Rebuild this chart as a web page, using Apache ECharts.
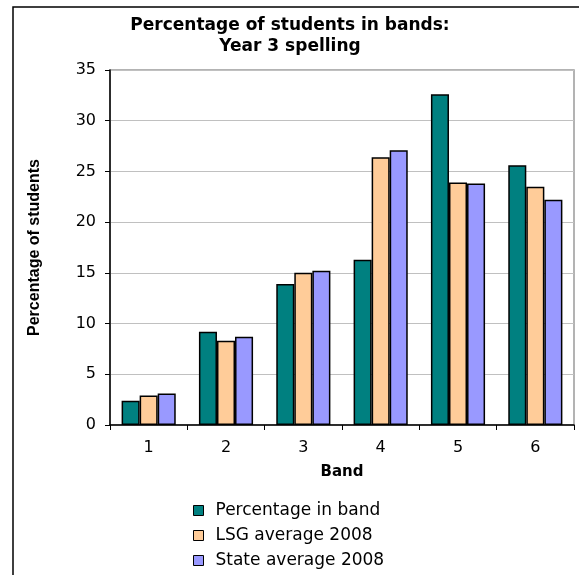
<!DOCTYPE html>
<html>
<head>
<meta charset="utf-8">
<script src="https://cdn.jsdelivr.net/npm/echarts@6/dist/echarts.min.js"></script>
<style>
html,body{margin:0;padding:0;background:#fff;}
#chart{width:579px;height:575px;}
</style>
</head>
<body>
<div id="chart"></div>
<script>
var bands = ['1', '2', '3', '4', '5', '6'];
var percentageInBand = [2.4, 9.2, 13.9, 16.3, 32.6, 25.6];
var lsgAverage2008 = [2.9, 8.3, 15.0, 26.4, 23.9, 23.5];
var stateAverage2008 = [3.1, 8.7, 15.2, 27.1, 23.8, 22.2];
var seriesNames = ['Percentage in band', 'LSG average 2008', 'State average 2008'];
var yTicks = [0, 35, 5];

var chart = echarts.init(document.getElementById('chart'), null, {renderer: 'canvas'});
var font = 'DejaVu Sans, sans-serif';
var barStyle = function (c) {
  return {color: c, borderColor: '#000', borderWidth: 1.5};
};
chart.setOption({
  animation: false,
  backgroundColor: '#fff',
  title: {
    text: 'Percentage of students in bands:\nYear 3 spelling',
    left: 285,
    top: 10,
    textAlign: 'center',
    textStyle: {fontFamily: 'DejaVu Sans, sans-serif', fontWeight: 'bold', fontSize: 17, color: '#000', lineHeight: 21}
  },
  graphic: [{
    type: 'rect',
    shape: {x: 13, y: 7, width: 700, height: 700},
    style: {fill: 'none', stroke: '#000', lineWidth: 1.5},
    silent: true
  }],
  legend: {
    orient: 'vertical',
    left: 193,
    top: 502,
    height: 120,
    padding: 0,
    itemWidth: 10,
    itemHeight: 10,
    itemGap: 8,
    icon: 'rect',
    data: seriesNames,
    itemStyle: {borderColor: '#000', borderWidth: 1},
    textStyle: {fontFamily: font, fontSize: 17, color: '#000', padding: [0, 0, 0, 7]}
  },
  grid: {
    left: 110, right: 5, top: 70, bottom: 150,
    show: true, borderColor: '#9a9a9a', borderWidth: 1.5, containLabel: false
  },
  xAxis: {
    type: 'category',
    data: bands,
    name: 'Band',
    nameLocation: 'middle',
    nameGap: 40,
    nameTextStyle: {fontFamily: font, fontWeight: 'bold', fontSize: 15, color: '#000'},
    axisLine: {lineStyle: {color: '#000', width: 1.5}},
    axisTick: {show: true, length: 5, lineStyle: {color: '#000'}},
    axisLabel: {fontFamily: font, fontSize: 16, color: '#000', margin: 15}
  },
  yAxis: {
    type: 'value',
    min: yTicks[0], max: yTicks[1], interval: yTicks[2],
    name: 'Percentage of students',
    nameLocation: 'middle',
    nameGap: 67,
    nameTextStyle: {fontFamily: 'Liberation Sans, Arial, sans-serif', fontWeight: 'bold', fontSize: 16, color: '#000'},
    axisLine: {show: true, lineStyle: {color: '#000', width: 1.5}},
    axisTick: {show: true, length: 5, lineStyle: {color: '#000'}},
    axisLabel: {fontFamily: font, fontSize: 16, color: '#000', margin: 14},
    splitLine: {lineStyle: {color: '#c0c0c0', width: 1}}
  },
  series: [
    {name: seriesNames[0], type: 'bar', data: percentageInBand, barGap: '0%', barCategoryGap: '30%', itemStyle: barStyle('#008080')},
    {name: seriesNames[1], type: 'bar', data: lsgAverage2008, itemStyle: barStyle('#FFCC99')},
    {name: seriesNames[2], type: 'bar', data: stateAverage2008, itemStyle: barStyle('#9999FF')}
  ]
});
</script>
</body>
</html>
